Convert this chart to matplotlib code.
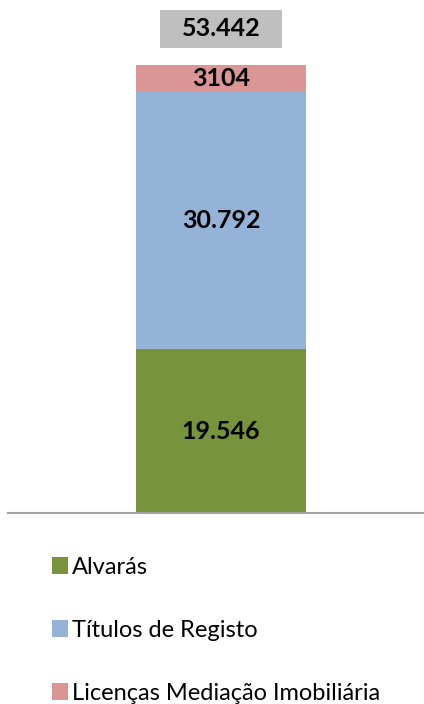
import matplotlib.pyplot as plt
from matplotlib.patches import Rectangle

plt.rcParams['font.family'] = ['Lato', 'DejaVu Sans']

categories = ['Alvarás', 'Títulos de Registo', 'Licenças Mediação Imobiliária']
values = [19546, 30792, 3104]
value_labels = ['19.546', '30.792', '3104']
total_label = '53.442'
colors = ['#77933C', '#95B3D7', '#D99694']

fig = plt.figure(figsize=(4.24, 7.04), dpi=100)
# axes run from the baseline (y=513px) to the top of the figure
ax = fig.add_axes([8 / 424, 191 / 704, 416 / 424, 513 / 704])

total = sum(values)
px = total / 448  # data units per pixel
ax.set_ylim(0, 513 * px)
ax.set_xlim(-213 / 170, 203 / 170)

bottom = 0
handles = []
for cat, v, lab, c in zip(categories, values, value_labels, colors):
    b = ax.bar(0, v, width=1.0, bottom=bottom, color=c, label=cat)
    handles.append(b)
    ax.text(0, bottom + v / 2, lab, ha='center', va='center',
            fontsize=18, fontweight='bold', color='black')
    bottom += v

# grey box with the total above the stack
ty = total + 36 * px
ax.add_patch(Rectangle((-121 / 340, ty - 19 * px), 121 / 170, 38 * px,
                       facecolor='#BFBFBF', edgecolor='none', clip_on=False))
ax.text(0, ty, total_label, ha='center', va='center',
        fontsize=18, fontweight='bold', color='black')

for s in ['top', 'right', 'left']:
    ax.spines[s].set_visible(False)
ax.spines['bottom'].set_color('#A0A0A0')
ax.spines['bottom'].set_linewidth(1.5)
ax.set_xticks([])
ax.set_yticks([])

fig.legend(handles=handles, labels=categories, loc='upper left',
           bbox_to_anchor=(40 / 424, 1 - 545 / 704), frameon=False,
           fontsize=17, handlelength=0.7, handleheight=0.7,
           handletextpad=0.15, labelspacing=1.78, borderpad=0)

fig.savefig('out.png', dpi=100)
